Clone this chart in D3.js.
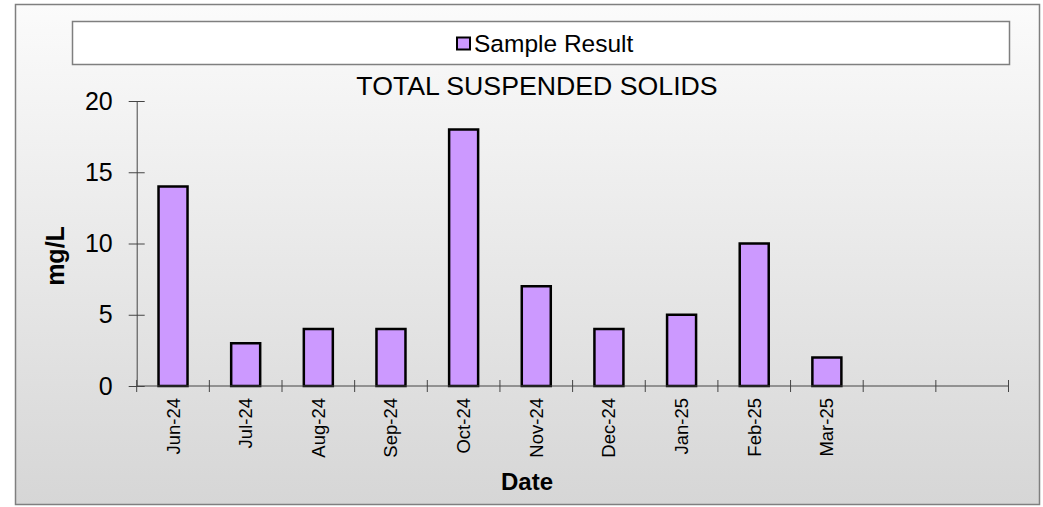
<!DOCTYPE html>
<html>
<head>
<meta charset="utf-8">
<script src="https://cdn.jsdelivr.net/npm/d3@7"></script>
<style>
  body { margin: 0; background: #fff; }
  text { font-family: "Liberation Sans", Arial, sans-serif; fill: #000; }
</style>
</head>
<body>
<script>
// chart data
var months = ["Jun-24", "Jul-24", "Aug-24", "Sep-24", "Oct-24", "Nov-24", "Dec-24", "Jan-25", "Feb-25", "Mar-25", "slot11", "slot12"];
var results = [14, 3, 4, 4, 18, 7, 4, 5, 10, 2, null, null];
var yTicks = [0, 5, 10, 15, 20];

var W = 1043, H = 507;
var svg = d3.select("body").append("svg")
    .attr("width", W)
    .attr("height", H);

// background gradient
var grad = svg.append("defs").append("linearGradient")
    .attr("id", "bg")
    .attr("x1", 0).attr("y1", 0).attr("x2", 0).attr("y2", 1);
grad.append("stop").attr("offset", "0%").attr("stop-color", "#fbfbfb");
grad.append("stop").attr("offset", "100%").attr("stop-color", "#d6d6d6");

svg.append("rect")
    .attr("x", 15.5).attr("y", 4.5)
    .attr("width", 1024).attr("height", 500)
    .attr("fill", "url(#bg)")
    .attr("stroke", "#7f7f7f")
    .attr("stroke-width", 1.5);

// legend
svg.append("rect")
    .attr("x", 72.5).attr("y", 21.5)
    .attr("width", 937).attr("height", 43)
    .attr("fill", "#fff")
    .attr("stroke", "#7f7f7f")
    .attr("stroke-width", 1.5);
svg.append("rect")
    .attr("x", 457).attr("y", 37.5)
    .attr("width", 13).attr("height", 12)
    .attr("fill", "#cc99ff")
    .attr("stroke", "#000")
    .attr("stroke-width", 2);
svg.append("text")
    .attr("x", 474).attr("y", 52)
    .attr("font-size", 24.5)
    .text("Sample Result");

// title
svg.append("text")
    .attr("x", 537).attr("y", 95)
    .attr("text-anchor", "middle")
    .attr("font-size", 26.7)
    .text("TOTAL SUSPENDED SOLIDS");

// scales
var plotL = 136.7, plotR = 1008.5, plotT = 101, plotB = 386;
var x = d3.scaleBand().domain(months).range([plotL, plotR]);
var y = d3.scaleLinear().domain([0, 20]).range([plotB, plotT]);

// bars
var barW = 29;
svg.append("g").selectAll("rect")
    .data(months.map(function(m, i) { return {m: m, v: results[i]}; }).filter(function(d) { return d.v != null; }))
    .enter()
    .append("rect")
    .attr("x", function(d) { return x(d.m) + x.bandwidth() / 2 - barW / 2; })
    .attr("y", function(d) { return y(d.v); })
    .attr("width", barW)
    .attr("height", function(d) { return y(0) - y(d.v); })
    .attr("fill", "#cc99ff")
    .attr("stroke", "#000")
    .attr("stroke-width", 2.5);

// y axis
var yAxis = d3.axisLeft(y).tickValues(yTicks).tickSizeInner(8).tickSizeOuter(0).tickPadding(16);
var yg = svg.append("g")
    .attr("transform", "translate(" + plotL + ",0)")
    .call(yAxis);
yg.select(".domain").attr("stroke", "#444");
yg.selectAll(".tick line").attr("stroke", "#444").attr("x2", 8).attr("x1", -8);
yg.selectAll(".tick text")
    .attr("font-size", 25)
    .attr("font-family", "Liberation Sans, Arial, sans-serif")
    .attr("fill", "#000");

// x axis: ticks on band boundaries
var xg = svg.append("g").attr("transform", "translate(0," + plotB + ")");
xg.append("line")
    .attr("x1", plotL).attr("x2", plotR)
    .attr("stroke", "#444");
var bounds = months.map(function(m) { return x(m); }).concat([plotR]);
xg.selectAll(".xt").data(bounds).enter().append("line")
    .attr("x1", function(d) { return d; })
    .attr("x2", function(d) { return d; })
    .attr("y1", -6).attr("y2", 6)
    .attr("stroke", "#444");
xg.selectAll(".xl").data(months.slice(0, 10)).enter().append("text")
    .attr("transform", function(d) { return "translate(" + (x(d) + x.bandwidth() / 2 + 6.5) + ",12) rotate(-90)"; })
    .attr("text-anchor", "end")
    .attr("font-size", 18.5)
    .text(function(d) { return d; });

// axis titles
svg.append("text")
    .attr("transform", "translate(64,256) rotate(-90)")
    .attr("text-anchor", "middle")
    .attr("font-size", 25)
    .attr("font-weight", "bold")
    .text("mg/L");
svg.append("text")
    .attr("x", 527).attr("y", 490)
    .attr("text-anchor", "middle")
    .attr("font-size", 24)
    .attr("font-weight", "bold")
    .text("Date");
</script>
</body>
</html>
